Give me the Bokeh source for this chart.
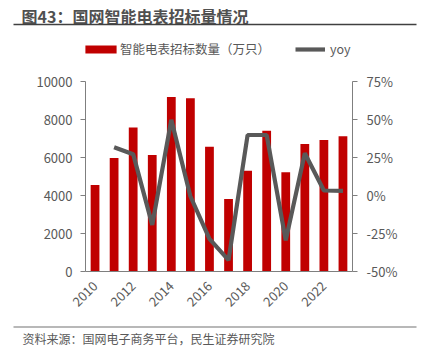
import math
from bokeh.plotting import figure
from bokeh.models import (Range1d, LinearAxis, FixedTicker, Label, BoxAnnotation, Legend,
                          LegendItem, PrintfTickFormatter, CustomJSTickFormatter,
                          ColumnDataSource)
from bokeh.embed import file_html
from bokeh.resources import INLINE

years = [2010, 2011, 2012, 2013, 2014, 2015, 2016, 2017, 2018, 2019, 2020, 2021, 2022, 2023]
volume = [4550, 5970, 7580, 6130, 9190, 9120, 6570, 3810, 5300, 7405, 5230, 6705, 6915, 7125]
yoy_years = [2011, 2012, 2013, 2014, 2015, 2016, 2017, 2018, 2019, 2020, 2021, 2022, 2023]
yoy = [31.8, 27.2, -19.3, 49.8, -0.5, -28.5, -42.5, 39.8, 39.8, -29.5, 27.8, 3.3, 3.1]
x_tick_years = [2010, 2012, 2014, 2016, 2018, 2020, 2022]
left_ticks = [0, 2000, 4000, 6000, 8000, 10000]
right_ticks = [-50, -25, 0, 25, 50, 75]

title_text = "图43：国网智能电表招标量情况"
bar_name = "智能电表招标数量（万只）"
line_name = "yoy"
source_text = "资料来源：国网电子商务平台，民生证券研究院"

FONT = "Noto Sans CJK SC"
TXT = "#595959"
AX = "#7f7f7f"
RED = "#C00000"
LINE = "#595959"
W, H = 422, 352

# plot-area position on the canvas (pixels from top-left)
PL, PR, PT, PB = 85, 352, 81, 271
X0, X1 = 2009.5, 2023.5
Y0, Y1 = 0, 10000
R0, R1 = -50, 75

kx = (X1 - X0) / (PR - PL)
ky = (Y1 - Y0) / (PB - PT)
kr = (R1 - R0) / (PB - PT)

p = figure(width=W, height=H, output_backend="svg", toolbar_location=None,
           x_range=Range1d(X0 - PL * kx, X1 + (W - PR) * kx),
           y_range=Range1d(Y0 - (H - PB) * ky, Y1 + PT * ky),
           x_axis_location=None, y_axis_location=None,
           min_border=0, min_border_left=0, min_border_right=0,
           min_border_top=0, min_border_bottom=0)
p.outline_line_color = None
p.xgrid.visible = False
p.ygrid.visible = False
p.extra_y_ranges = {"yoy": Range1d(R0 - (H - PB) * kr, R1 + PT * kr)}

bars_src = ColumnDataSource(dict(x=years, top=volume))
bars = p.vbar(x="x", top="top", width=0.46, source=bars_src, fill_color=RED, line_color=None)
line_src = ColumnDataSource(dict(x=yoy_years, y=yoy))
ln = p.line(x="x", y="y", source=line_src, y_range_name="yoy", line_color=LINE, line_width=4.2)


def style(ax, tick_out):
    ax.major_tick_out = tick_out
    ax.major_tick_in = 0
    ax.minor_tick_out = 0
    ax.minor_tick_in = 0
    ax.axis_line_color = AX
    ax.major_tick_line_color = AX
    ax.major_label_text_color = TXT
    ax.major_label_text_font = FONT
    ax.major_label_text_font_size = "13px"


xa = LinearAxis(fixed_location=Y0, bounds=(X0, X1), ticker=FixedTicker(ticks=x_tick_years),
                formatter=CustomJSTickFormatter(code="return String(Math.round(tick));"))
style(xa, 0)
xa.major_label_orientation = math.pi / 4
xa.major_label_standoff = 12
p.add_layout(xa, "below")

ya = LinearAxis(fixed_location=X0, bounds=(Y0, Y1), ticker=FixedTicker(ticks=left_ticks),
                formatter=CustomJSTickFormatter(code="return String(Math.round(tick));"))
style(ya, 5)
ya.major_label_standoff = 8
p.add_layout(ya, "left")

ra = LinearAxis(y_range_name="yoy", fixed_location=X1, bounds=(R0, R1),
                ticker=FixedTicker(ticks=right_ticks),
                formatter=PrintfTickFormatter(format="%d%%"))
style(ra, 5)
ra.major_label_standoff = 9
p.add_layout(ra, "right")


# texts and rules, placed in canvas pixels (screen units measured from bottom-left)
def lab(text, cx, cy, size, bold=False, color=TXT):
    p.add_layout(Label(x=cx, y=H - cy, x_units="screen", y_units="screen", text=text,
                       text_font=FONT, text_font_size=size, text_color=color,
                       text_font_style="bold" if bold else "normal",
                       text_baseline="middle", text_align="left"))


def rule(x0, x1, cy, thick, color):
    p.add_layout(BoxAnnotation(left=x0, right=x1, top=H - cy + thick / 2, bottom=H - cy - thick / 2,
                               left_units="screen", right_units="screen",
                               top_units="screen", bottom_units="screen",
                               fill_color=color, fill_alpha=1, line_color=None))


lab(title_text, 21, 15, "16px", bold=True, color="#505050")
rule(13, 416, 24, 1.5, "#404040")
lab(source_text, 22, 338, "12px")
rule(13, 416, 326.5, 1.5, "#a0a0a0")

leg1 = Legend(items=[LegendItem(label=bar_name, renderers=[bars])],
              location=(81, H - 58), orientation="horizontal",
              glyph_width=39, glyph_height=10, label_height=16, label_standoff=0,
              padding=0, margin=0, border_line_color=None, background_fill_alpha=0,
              label_text_font=FONT, label_text_font_size="12.5px", label_text_color=TXT)
leg2 = Legend(items=[LegendItem(label=line_name, renderers=[ln])],
              location=(295, H - 58), orientation="horizontal",
              glyph_width=30, glyph_height=10, label_height=16, label_standoff=5,
              padding=0, margin=0, border_line_color=None, background_fill_alpha=0,
              label_text_font=FONT, label_text_font_size="12.5px", label_text_color=TXT)
p.add_layout(leg1, "center")
p.add_layout(leg2, "center")

open("out.html", "w").write(file_html(p, INLINE))
